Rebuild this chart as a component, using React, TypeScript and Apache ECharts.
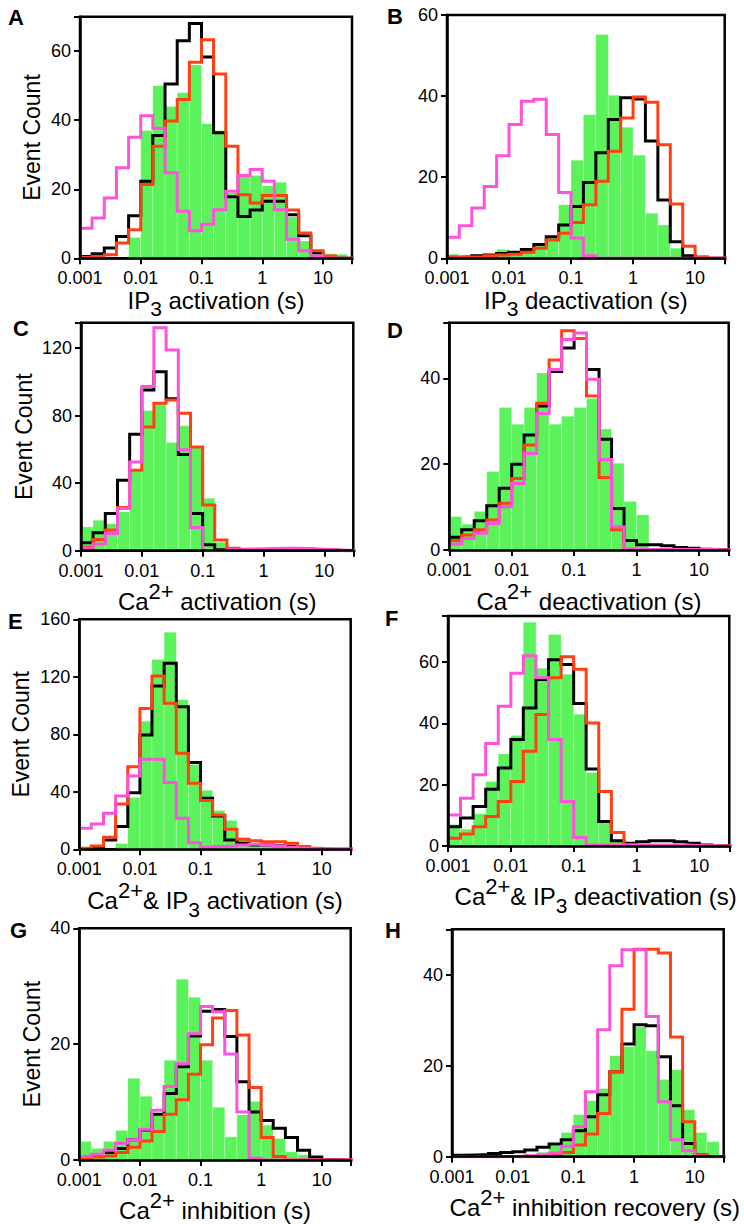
import React, { useEffect, useRef } from "react";
import * as echarts from "echarts";

// Histogram bin edges (log-spaced, 5 bins per decade), seconds
const BIN_EDGES = [0.001, 0.00158, 0.00251, 0.00398, 0.00631, 0.01, 0.0158, 0.0251, 0.0398, 0.0631, 0.1, 0.158, 0.251, 0.398, 0.631, 1, 1.58, 2.51, 3.98, 6.31, 10, 15.8, 25.1, 39.8];

// Panel A: IP3 activation
const A_GREEN = [0, 0, 0, 0, 6, 37, 50, 44, 48, 56, 39, 37, 19, 24, 24, 21, 22, 12, 5, 1.5, 1.3, 1.2, 0];
const A_BLACK = [0.5, 1.3, 3, 6.3, 12.3, 22.3, 35.6, 50.5, 63, 68, 58.3, 36.4, 17.8, 12.1, 14, 16.5, 16.5, 12.6, 6.5, 1.6, 0.5, 0, 0];
const A_RED = [0.2, 0.5, 1, 4.4, 8.3, 21.4, 32.5, 39.8, 46, 56.8, 63.3, 53.4, 32.5, 18.4, 16, 18.2, 18.2, 14, 7.3, 2.2, 0.7, 0, 0];
const A_PINK = [8.7, 11.7, 17.5, 26.2, 35.1, 41.3, 37.7, 24.8, 13.6, 8, 9.9, 14.1, 19.4, 24, 25.7, 22.3, 14.1, 5.5, 2.2, 0.7, 0, 0, 0];

// Panel B: IP3 deactivation
const B_GREEN = [1, 0.3, 0.3, 0.5, 2.2, 1.5, 2, 3.3, 5.5, 13.2, 24.2, 35.4, 55.2, 40.2, 32.3, 25.4, 11.1, 8.2, 2.5, 0.4, 0, 0, 0];
const B_BLACK = [0.25, 0.4, 0.6, 0.8, 1.2, 1.5, 2.2, 3.4, 5.3, 8.2, 12.8, 18.7, 26, 34.2, 39.6, 39.3, 28.9, 14.4, 4.1, 0.6, 0, 0, 0];
const B_RED = [0.2, 0.3, 0.4, 0.6, 0.8, 1, 1.5, 2.5, 4.5, 6.2, 8.8, 13.2, 19, 26.4, 34.6, 39.8, 38.5, 28, 13.4, 3, 0.4, 0, 0];
const B_PINK = [5.2, 8, 12.4, 17.7, 25.3, 33, 38.7, 39.2, 30.5, 16.2, 5, 0.6, 0, 0, 0, 0, 0, 0, 0, 0, 0, 0, 0];

// Panel C: Ca2+ activation
const C_GREEN = [14, 18, 16, 23, 47, 83, 87, 64, 74, 62, 31, 5, 0.5, 0.5, 0.5, 1, 1, 1, 1, 0.5, 0.3, 0, 0];
const C_BLACK = [4.7, 10.6, 22, 41.7, 68.9, 95.2, 106, 90, 57, 22, 3.5, 0.5, 0.3, 0.3, 0.5, 0.8, 1, 1, 0.8, 0.5, 0.3, 0, 0];
const C_RED = [2, 6.7, 12.2, 25.6, 47.6, 73.2, 87.3, 89.3, 81.4, 61.4, 27, 6.3, 1.4, 0.8, 0.8, 1, 1.2, 1.2, 1, 0.6, 0.3, 0, 0];
const C_PINK = [1.4, 4, 10.2, 25, 52.5, 97.2, 132, 118.8, 59.8, 13.8, 0, 0, 0.5, 0.8, 1, 1.3, 1.4, 1.4, 1.2, 0.8, 0.5, 0.2, 0];

// Panel D: Ca2+ deactivation
const D_GREEN = [7.8, 6, 9, 18.3, 33.2, 29.3, 33.2, 41.3, 29.3, 31.2, 33.2, 35.3, 28.2, 20.2, 11.3, 8.2, 0, 0, 0, 0, 0, 0, 0];
const D_BLACK = [3, 4.7, 6.8, 10.3, 14.4, 20, 26.8, 33.6, 41.6, 47.1, 49.3, 42.1, 25.8, 9.7, 2.2, 1.2, 1.2, 1, 0.6, 0.4, 0.2, 0, 0];
const D_RED = [2.2, 3.5, 4.7, 7, 10.9, 16.7, 24.5, 34.2, 44.3, 51.1, 49.3, 35.9, 16.9, 4.7, 0.2, 0, 0, 0, 0, 0, 0, 0, 0];
const D_PINK = [1.4, 2.7, 3.9, 6.2, 10.1, 15.5, 22.5, 31.8, 42.1, 49.1, 50.6, 39.8, 21.1, 5.4, 0.2, 0.1, 0.1, 0.1, 0.1, 0.1, 0.1, 0, 0];

// Panel E: Ca2+ & IP3 activation
const E_GREEN = [0, 0, 0, 4, 36, 89, 132, 151, 104, 59, 41, 27, 20, 8, 4, 2.5, 2, 1.5, 0.8, 0, 0, 0, 0];
const E_BLACK = [0.5, 1.4, 6.5, 15.8, 39.4, 79.5, 113.6, 129.4, 99.2, 60.3, 35.5, 23.2, 6.5, 4.2, 3, 3, 2.5, 1.9, 0.7, 0.2, 0, 0, 0];
const E_RED = [0.7, 2.3, 8.3, 31.5, 57.5, 98, 120.6, 101.6, 66.8, 45.9, 33.9, 23.9, 13.9, 7, 6, 5.3, 5.3, 4.2, 1.9, 0.7, 0, 0, 0];
const E_PINK = [14.6, 17.6, 25, 37.1, 51, 62.6, 62.6, 46.4, 21.6, 4.6, 1.4, 1.9, 2.3, 3, 3.5, 3, 2.3, 1.4, 0.7, 0.2, 0, 0, 0];

// Panel F: Ca2+ & IP3 deactivation
const F_GREEN = [7, 5.5, 10.5, 21, 30, 36, 73, 58, 69, 56, 43, 24, 8, 2, 0.5, 0, 0, 0, 0, 0, 0, 0, 0];
const F_BLACK = [6.3, 9.1, 12.9, 18.5, 25.4, 34.7, 45, 54.3, 60.7, 59.2, 46.5, 25.1, 8, 1.7, 0.9, 1.4, 1.7, 1.7, 1.4, 0.9, 0.3, 0, 0];
const F_RED = [2.5, 3.9, 6.3, 9.6, 14.5, 21, 30.9, 42.9, 54.9, 61.7, 57.6, 40.1, 17.8, 4.4, 0.3, 0, 0, 0, 0, 0, 0, 0, 0];
const F_PINK = [10.1, 15.6, 23.2, 33.4, 45.6, 56.3, 62, 54.9, 34.7, 14.5, 2.8, 0.3, 0.3, 0.3, 0.3, 0.3, 0.3, 0.3, 0.3, 0.2, 0.1, 0, 0];

// Panel G: Ca2+ inhibition
const G_GREEN = [3.2, 2, 3.2, 5.1, 14.1, 11, 7.9, 17.2, 31.2, 28.1, 17.2, 9.1, 4, 7.8, 10.1, 6, 3.7, 1.4, 0.9, 0, 0, 0, 0];
const G_BLACK = [0.5, 0.7, 1.3, 2, 3.5, 5.2, 7.9, 11.5, 16.1, 21.4, 25.7, 26, 21.3, 13.5, 8.3, 6.8, 5.5, 3.9, 1.7, 0.5, 0.1, 0, 0];
const G_RED = [0.3, 0.5, 0.7, 1.3, 2.2, 3.3, 4.9, 7.9, 10.4, 14.8, 19.9, 24.5, 25.8, 21.6, 12.5, 3.9, 0.6, 0, 0, 0, 0, 0, 0];
const G_PINK = [0.6, 1, 1.7, 2.9, 3.5, 5.3, 8.6, 12.7, 16.6, 21.8, 26.5, 25.6, 18.3, 8.3, 0.3, 0, 0, 0, 0, 0, 0, 0, 0];

// Panel H: Ca2+ inhibition recovery
const H_GREEN = [0, 0, 0, 0, 0, 0.3, 0.5, 1, 2.5, 5.3, 9.2, 12.3, 15, 22.2, 24.2, 28.5, 23.3, 17, 19.1, 10.3, 5.3, 3.3, 0];
const H_BLACK = [0.3, 0.4, 0.5, 0.7, 0.9, 1.1, 1.5, 2.1, 2.8, 3.7, 5.7, 8.8, 13.6, 18.7, 24.8, 29, 28.8, 22, 11.2, 2.9, 0.4, 0, 0];
const H_RED = [0, 0, 0, 0, 0, 0, 0, 0.2, 0.4, 0.9, 2.6, 5, 9.5, 18.7, 32.4, 45.6, 45.6, 44.8, 26.3, 7.7, 0.4, 0, 0];
const H_PINK = [0, 0, 0, 0, 0, 0, 0.2, 0.4, 0.8, 2.3, 6.6, 14.3, 27.9, 42, 45.5, 45.5, 30.8, 12.1, 3.7, 1.3, 0.1, 0, 0];

const LETTERS = ["A", "B", "C", "D", "E", "F", "G", "H"];
const X_TITLES = [
  "{m|IP}{b|3}{m| activation (s)}",
  "{m|IP}{b|3}{m| deactivation (s)}",
  "{m|Ca}{p|2+}{m| activation (s)}",
  "{m|Ca}{p|2+}{m| deactivation (s)}",
  "{m|Ca}{p|2+}{m|& IP}{b|3}{m| activation (s)}",
  "{m|Ca}{p|2+}{m|& IP}{b|3}{m| deactivation (s)}",
  "{m|Ca}{p|2+}{m| inhibition (s)}",
  "{m|Ca}{p|2+}{m| inhibition recovery (s)}",
];
const HAS_SUB = [true, true, false, false, true, true, false, false];
const Y_MAX = [70, 60, 135, 53, 160, 75, 40, 50];
const Y_STEP = [20, 20, 40, 20, 40, 20, 20, 20];

const GREENS = [A_GREEN, B_GREEN, C_GREEN, D_GREEN, E_GREEN, F_GREEN, G_GREEN, H_GREEN];
const BLACKS = [A_BLACK, B_BLACK, C_BLACK, D_BLACK, E_BLACK, F_BLACK, G_BLACK, H_BLACK];
const REDS = [A_RED, B_RED, C_RED, D_RED, E_RED, F_RED, G_RED, H_RED];
const PINKS = [A_PINK, B_PINK, C_PINK, D_PINK, E_PINK, F_PINK, G_PINK, H_PINK];

// Layout (pixels)
const LAYOUT = [
  { l: 80, t: 16.7, w: 272, h: 241.6 },
  { l: 447, t: 15, w: 277.7, h: 243.3 },
  { l: 81, t: 322.7, w: 272.3, h: 228 },
  { l: 449.3, t: 322.7, w: 279.4, h: 227.3 },
  { l: 79.3, t: 619.3, w: 271.4, h: 230 },
  { l: 448, t: 616, w: 281.3, h: 230 },
  { l: 79.3, t: 928.3, w: 271.4, h: 231.7 },
  { l: 452, t: 929.3, w: 271.7, h: 227.4 },
];
const NAME_GAP_X = [27, 27, 29, 30, 30.5, 29, 27, 28];
const NAME_PAD_X = [0, 0, 0, 0, 0, 14, 0, 14];
const NAME_GAP_Y = [37, 0, 46, 0, 46.5, 0, 35.5, 0];
const LETTER_POS = [
  [8, 6], [387, 5.5], [13, 317], [387, 319], [8, 610], [385, 607], [10, 919], [385, 919],
];

const FONT = '"Liberation Sans", Arial, Helvetica, sans-serif';
const C_GREEN_FILL = "#5cf25c";
const C_BLACK_LINE = "#000000";
const C_RED_LINE = "#ff4013";
const C_PINK_LINE = "#ff52dc";

function xLabel(v: number): string {
  const l = Math.log10(v);
  const r = Math.round(l);
  if (Math.abs(l - r) > 1e-6) return "";
  return r < 0 ? Math.pow(10, r).toFixed(-r) : String(Math.pow(10, r));
}

function stepData(vals: number[]) {
  const pts: number[][] = vals.map((c, k) => [BIN_EDGES[k], c]);
  pts.push([BIN_EDGES[vals.length], 0]);
  return pts;
}

function richFor(hasSub: boolean) {
  return {
    m: {
      fontSize: 24, fontFamily: FONT, color: "#000", verticalAlign: "bottom",
      padding: [0, 0, hasSub ? 7 : 0, 0],
    },
    p: { fontSize: 22, fontFamily: FONT, color: "#000", verticalAlign: "top", lineHeight: hasSub ? 40 : 33 },
    b: { fontSize: 21, fontFamily: FONT, color: "#000", verticalAlign: "bottom" },
  };
}

function buildOption() {
  const grid: any[] = [];
  const xAxis: any[] = [];
  const yAxis: any[] = [];
  const series: any[] = [];
  const graphic: any[] = [];

  for (let i = 0; i < 8; i++) {
    const L = LAYOUT[i];
    grid.push({
      left: L.l, top: L.t, width: L.w, height: L.h,
      show: true, borderColor: "#000", borderWidth: 2.5,
      backgroundColor: "transparent",
      containLabel: false, outerBoundsMode: "none",
    });
    xAxis.push({
      type: "log", logBase: 10, gridIndex: i, min: 0.001, max: 30,
      z: 5,
      axisLine: { show: true, lineStyle: { color: "#000", width: 2.5 } },
      axisTick: { show: true, inside: false, length: 6, lineStyle: { color: "#000", width: 2 } },
      minorTick: { show: false },
      splitLine: { show: false },
      axisLabel: { color: "#000", fontSize: 18, fontFamily: FONT, margin: 11, formatter: xLabel },
      name: X_TITLES[i],
      nameLocation: "middle",
      nameGap: NAME_GAP_X[i],
      nameTextStyle: {
        color: "#000", fontSize: 24, fontFamily: FONT,
        padding: [0, 0, 0, NAME_PAD_X[i]],
        rich: richFor(HAS_SUB[i]),
      },
    });
    const step = Y_STEP[i];
    const left = i % 2 === 0;
    yAxis.push({
      type: "value", gridIndex: i, min: 0, max: Y_MAX[i], interval: step,
      z: 5,
      axisLine: { show: true, lineStyle: { color: "#000", width: 2.5 } },
      axisTick: { show: true, inside: false, length: 6, lineStyle: { color: "#000", width: 2 } },
      splitLine: { show: false },
      axisLabel: {
        color: "#000", fontSize: 18, fontFamily: FONT, margin: 9,
        formatter: (v: number) => (Math.abs(v % step) < 1e-9 ? String(v) : ""),
      },
      name: left ? "Event Count" : "",
      nameLocation: "middle",
      nameGap: NAME_GAP_Y[i],
      nameTextStyle: { color: "#000", fontSize: 23, fontFamily: FONT },
    });

    const green = GREENS[i];
    series.push({
      type: "custom",
      xAxisIndex: i, yAxisIndex: i,
      silent: true,
      clip: true,
      z: 1,
      encode: { x: [0, 1], y: 2 },
      data: green.map((c, k) => [BIN_EDGES[k], BIN_EDGES[k + 1], c]).filter((d) => d[2] > 0),
      renderItem: (params: any, api: any) => {
        const p0 = api.coord([api.value(0), 0]);
        const p1 = api.coord([api.value(1), api.value(2)]);
        return {
          type: "rect",
          shape: { x: p0[0], y: p1[1], width: p1[0] - p0[0], height: p0[1] - p1[1] },
          style: { fill: C_GREEN_FILL, stroke: "rgba(255,255,255,0.3)", lineWidth: 0.7 },
        };
      },
    });
    const lines: [number[], string][] = [
      [BLACKS[i], C_BLACK_LINE],
      [REDS[i], C_RED_LINE],
      [PINKS[i], C_PINK_LINE],
    ];
    lines.forEach(([vals, color], j) => {
      series.push({
        type: "line",
        xAxisIndex: i, yAxisIndex: i,
        step: "end",
        symbol: "none",
        silent: true,
        clip: true,
        z: 2 + j * 0.1,
        lineStyle: { color, width: 3, join: "miter" },
        data: stepData(vals),
      });
    });

    graphic.push({
      type: "text",
      left: LETTER_POS[i][0],
      top: LETTER_POS[i][1],
      style: { text: LETTERS[i], font: `bold 22px ${FONT}`, fill: "#000" },
    });
  }

  return {
    animation: false,
    backgroundColor: "#fff",
    grid, xAxis, yAxis, series, graphic,
  };
}

export default function App() {
  const ref = useRef<HTMLDivElement>(null);
  useEffect(() => {
    if (!ref.current) return;
    const chart = echarts.init(ref.current, null, { renderer: "svg" });
    chart.setOption(buildOption() as any);
    return () => chart.dispose();
  }, []);
  return (
    <div
      ref={ref}
      style={{ position: "absolute", left: 0, top: 0, width: 744, height: 1224, background: "#fff" }}
    />
  );
}
